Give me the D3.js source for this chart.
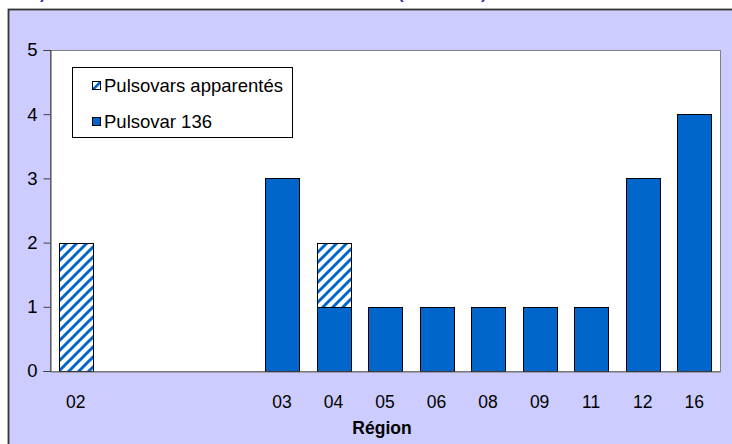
<!DOCTYPE html>
<html><head><meta charset="utf-8">
<script src="https://cdn.jsdelivr.net/npm/d3@7"></script>
<style>body{margin:0;background:#fff;} svg{display:block;}</style>
</head><body><svg id="c" width="732" height="444"></svg>
<script>
// ---- data ----
const categories = ["02", "", "", "", "03", "04", "05", "06", "08", "09", "11", "12", "16"];
const pulsovar136 = [0, 0, 0, 0, 3, 1, 1, 1, 1, 1, 1, 3, 4];
const apparentes  = [2, 0, 0, 0, 0, 1, 0, 0, 0, 0, 0, 0, 0];
const yTicks = [0, 1, 2, 3, 4, 5];
const seriesNames = ["Pulsovar 136", "Pulsovars apparentés"];
const xTitle = "Région";

// ---- layout ----
const W = 732, H = 444;
const plot = {x0: 50, x1: 720, y0: 50, y1: 371};
const BLUE = "#0066cc";
const FONT = "'Liberation Sans', Arial, sans-serif";

const svg = d3.select("#c");
const defs = svg.append("defs");
const pat = defs.append("pattern").attr("id", "hatch")
  .attr("patternUnits", "userSpaceOnUse").attr("width", 10).attr("height", 10);
pat.append("rect").attr("width", 10).attr("height", 10).attr("fill", "#fff");
pat.append("path").attr("d", "M-2.5,2.5L2.5,-2.5M0,10L10,0M7.5,12.5L12.5,7.5")
  .attr("stroke", BLUE).attr("stroke-width", 3);

// background + outer frame
svg.append("rect").attr("width", W).attr("height", H).attr("fill", "#fff");
svg.append("rect").attr("x", 8.5).attr("y", 9.5).attr("width", 760).attr("height", 460)
  .attr("fill", "#ccccff").attr("stroke", "#333").attr("stroke-width", 1.8);

// title fragments (cut off at the top, as in the reference)
const titleBits = [[40, ")"], [398, "("], [481, ")"]];
svg.selectAll("text.tt").data(titleBits).enter().append("text")
  .attr("x", d => d[0]).attr("y", -1).text(d => d[1])
  .attr("font-family", FONT).attr("font-size", 17).attr("font-weight", "bold").attr("fill", "#3333aa");

// plot area
svg.append("rect").attr("x", plot.x0 + 0.5).attr("y", plot.y0 + 0.5)
  .attr("width", plot.x1 - plot.x0).attr("height", plot.y1 - plot.y0)
  .attr("fill", "#fff").attr("stroke", "#808080").attr("stroke-width", 1);

const x = d3.scaleBand().domain(d3.range(categories.length))
  .range([plot.x0, plot.x1]).paddingInner(0.35).paddingOuter(0.175);
const y = d3.scaleLinear().domain([0, 5]).range([plot.y1, plot.y0]);

// stacked bars
const rows = categories.map((c, i) => ({i, p136: pulsovar136[i], app: apparentes[i]}));
const stack = d3.stack().keys(["p136", "app"])(rows);
const fills = {p136: BLUE, app: "url(#hatch)"};
stack.forEach(layer => {
  svg.append("g").selectAll("rect").data(layer.filter(d => d[1] > d[0])).enter().append("rect")
    .attr("x", d => Math.round(x(d.data.i)) + 0.5)
    .attr("y", d => Math.round(y(d[1])) + 0.5)
    .attr("width", Math.round(x.bandwidth()))
    .attr("height", d => Math.round(y(d[0])) - Math.round(y(d[1])))
    .attr("fill", fills[layer.key]).attr("stroke", "#000").attr("stroke-width", 1);
});

// y axis
const yAxis = svg.append("g").attr("transform", `translate(${plot.x0 + 0.5},0)`)
  .call(d3.axisLeft(y).tickValues(yTicks).tickFormat(d3.format("d")).tickSize(7).tickPadding(6));
yAxis.select(".domain").attr("stroke", "#404040");
yAxis.selectAll(".tick line").attr("stroke", "#404040");
yAxis.selectAll("text").attr("font-family", FONT).attr("font-size", 18.5).attr("fill", "#000");

// x axis
const xAxis = svg.append("g").attr("transform", `translate(0,${plot.y1 + 0.5})`)
  .call(d3.axisBottom(x).tickFormat(i => categories[i]).tickSize(0).tickPadding(24));
xAxis.select(".domain").attr("stroke", "#707070");
xAxis.selectAll("text").attr("font-family", FONT).attr("font-size", 17.5).attr("fill", "#000");

svg.append("text").attr("x", 382).attr("y", 434).attr("text-anchor", "middle")
  .attr("font-family", FONT).attr("font-size", 17.5).attr("font-weight", "bold").text(xTitle);

// legend
const lg = svg.append("g");
lg.append("rect").attr("x", 72.5).attr("y", 67.5).attr("width", 220).attr("height", 70)
  .attr("fill", "#fff").attr("stroke", "#000");
const legendItems = [
  {name: seriesNames[1], key: "app", y: 81},
  {name: seriesNames[0], key: "p136", y: 117}
];
legendItems.forEach(it => {
  if (it.key === "app") {
    lg.append("rect").attr("x", 92.5).attr("y", it.y + 0.5).attr("width", 8).attr("height", 8)
      .attr("fill", "#fff").attr("stroke", "#000");
    lg.append("line").attr("x1", 93).attr("y1", it.y + 8.5).attr("x2", 100.5).attr("y2", it.y + 1)
      .attr("stroke", BLUE).attr("stroke-width", 2.5);
    lg.append("rect").attr("x", 92.5).attr("y", it.y + 0.5).attr("width", 8).attr("height", 8)
      .attr("fill", "none").attr("stroke", "#000");
  } else {
    lg.append("rect").attr("x", 92.5).attr("y", it.y + 0.5).attr("width", 8).attr("height", 8)
      .attr("fill", BLUE).attr("stroke", "#000");
  }
  lg.append("text").attr("x", 104).attr("y", it.y + 10.5).text(it.name)
    .attr("font-family", FONT).attr("font-size", 18.5).attr("fill", "#000");
});
</script></body></html>
